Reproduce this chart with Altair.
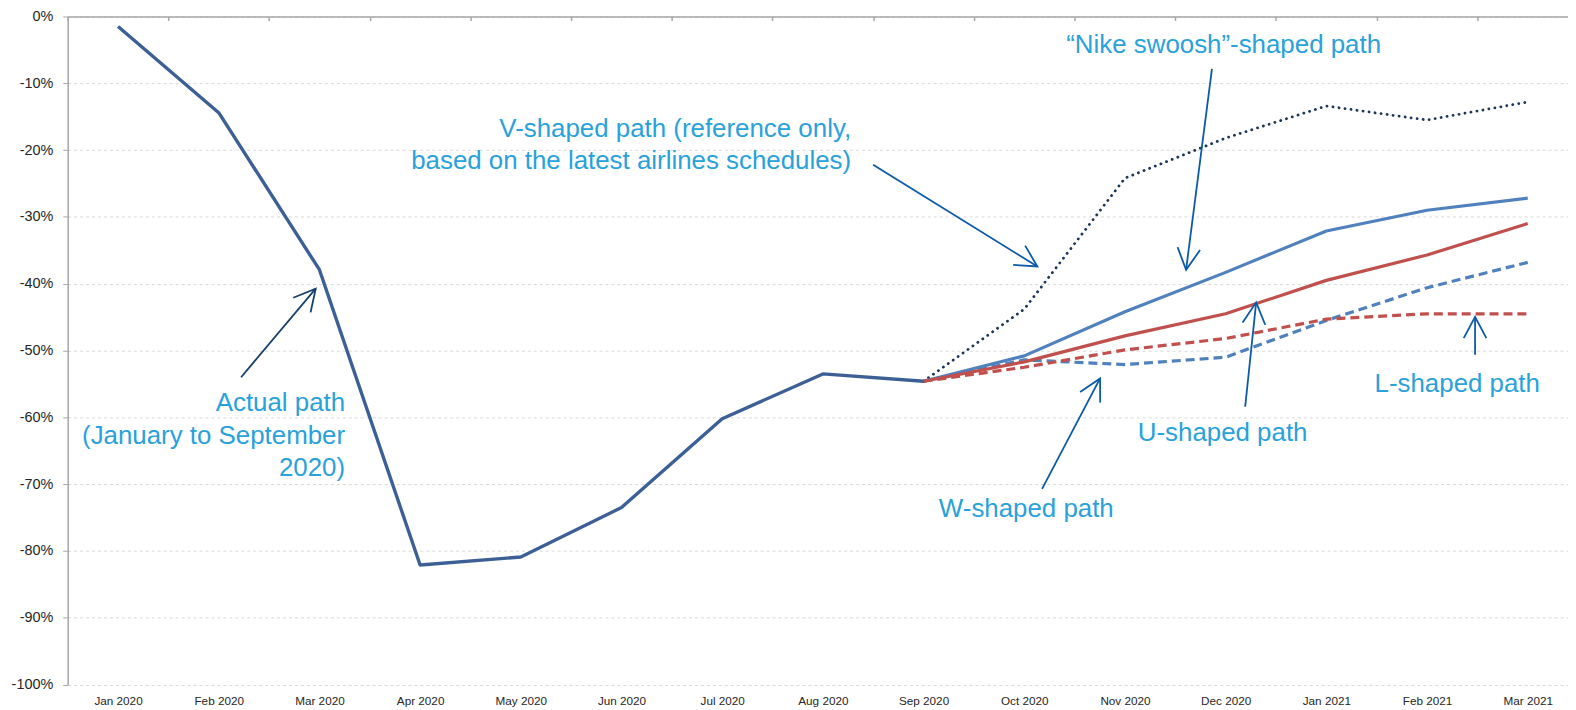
import math
import altair as alt
import pandas as pd

# ---------------- data ----------------
months = ["Jan 2020", "Feb 2020", "Mar 2020", "Apr 2020", "May 2020", "Jun 2020",
          "Jul 2020", "Aug 2020", "Sep 2020", "Oct 2020", "Nov 2020", "Dec 2020",
          "Jan 2021", "Feb 2021", "Mar 2021"]
actual = [-1.5, -14.4, -37.9, -82.1, -80.9, -73.5, -60.2, -53.5, -54.6]   # Jan-Sep 2020
v_path = [-54.6, -43.8, -24.2, -18.2, -13.4, -15.5, -12.8]             # Sep 2020 - Mar 2021
nike_path = [-54.6, -50.8, -44.2, -38.3, -32.1, -29.0, -27.2]
u_path = [-54.6, -51.7, -47.8, -44.5, -39.5, -35.7, -31.0]
w_path = [-54.6, -51.4, -52.1, -51.0, -45.5, -40.6, -36.8]
l_path = [-54.6, -52.5, -49.9, -48.2, -45.3, -44.5, -44.5]
y_ticks = list(range(-100, 1, 10))
FORECAST_START = 8  # index of Sep 2020

# annotation texts, anchored in data units (month index, percent)
ann_right = [
    {"x": 7.28, "y": -18.06, "t": "V-shaped path (reference only,\nbased on the latest airlines schedules)"},
    {"x": 2.255, "y": -59.1, "t": "Actual path\n(January to September\n2020)"},
]
ann_center = [
    {"x": 10.98, "y": -5.4, "t": "\u201cNike swoosh\u201d-shaped path"},
    {"x": 10.97, "y": -63.6, "t": "U-shaped path"},
    {"x": 9.02, "y": -74.9, "t": "W-shaped path"},
    {"x": 13.30, "y": -56.2, "t": "L-shaped path"},
]
# arrows: tail (x, y) -> head (x2, y2), data units
arrows = [
    {"x": 1.222, "y": -53.99, "x2": 1.963, "y2": -40.74, "c": "#17406a"},
    {"x": 7.499, "y": -22.20, "x2": 9.130, "y2": -37.42, "c": "#0b5aa8"},
    {"x": 10.864, "y": -7.86, "x2": 10.607, "y2": -37.92, "c": "#0b5aa8"},
    {"x": 11.194, "y": -58.41, "x2": 11.303, "y2": -42.78, "c": "#0b5aa8"},
    {"x": 9.177, "y": -70.70, "x2": 9.753, "y2": -54.17, "c": "#0b5aa8"},
    {"x": 13.477, "y": -50.64, "x2": 13.477, "y2": -44.95, "c": "#0b5aa8"},
]

# ---------------- layout ----------------
W, H = 1508, 671.6
X_DOMAIN = [-0.5, 14.4]
Y_DOMAIN = [-100, 0]
px_i = W / (X_DOMAIN[1] - X_DOMAIN[0])
px_v = H / (Y_DOMAIN[1] - Y_DOMAIN[0])

FONT = "Liberation Sans"
TEXT_BLUE = "#29a1db"

xs = alt.Scale(domain=X_DOMAIN, nice=False, zero=False)
ys = alt.Scale(domain=Y_DOMAIN, nice=False, zero=False)

y_axis = alt.Axis(values=y_ticks, labelExpr="datum.value + '%'", title=None,
                  grid=True, gridDash=[3, 3], gridColor="#d9d9d9", gridWidth=1,
                  domain=True, domainColor="#a6a6a6", domainWidth=1.5,
                  ticks=True, tickColor="#a6a6a6", tickSize=5, tickWidth=1,
                  labelFont=FONT, labelFontSize=14.5, labelColor="#262626",
                  labelPadding=10, labelFlush=False, labelOverlap=False)

month_expr = "[" + ",".join("'%s'" % m for m in months) + "][datum.value]"
x_label_axis = alt.Axis(values=list(range(len(months))), labelExpr=month_expr,
                        title=None, orient="bottom", domain=False, ticks=False,
                        tickSize=0, grid=False, labelPadding=11, labelAngle=0,
                        labelFont=FONT, labelFontSize=11.8, labelColor="#262626",
                        labelFlush=False, labelOverlap=False)
x_tick_axis = alt.Axis(values=[k + 0.5 for k in range(-1, len(months) - 1)],
                       labels=False, title=None, orient="bottom", offset=-H,
                       domain=True, domainColor="#a6a6a6", domainWidth=1.5,
                       ticks=True, tickColor="#a6a6a6", tickSize=4, tickWidth=1.5,
                       grid=False)


def series_df(values, start):
    return pd.DataFrame({"i": list(range(start, start + len(values))), "v": values})


def line(values, start, color, width, dash=None, cap="butt", x_axis=None):
    kw = dict(color=color, strokeWidth=width, strokeCap=cap, strokeJoin="round")
    if dash is not None:
        kw["strokeDash"] = dash
    return alt.Chart(series_df(values, start)).mark_line(**kw).encode(
        x=alt.X("i:Q", scale=xs, axis=x_axis),
        y=alt.Y("v:Q", scale=ys, axis=y_axis),
    )


l_v = line(v_path, FORECAST_START, "#1b3557", 2.8, dash=[0.1, 6], cap="round", x_axis=x_tick_axis)
l_nike = line(nike_path, FORECAST_START, "#4f81bd", 3.2)
l_w = line(w_path, FORECAST_START, "#4f81bd", 3.2, dash=[9, 5])
l_l = line(l_path, FORECAST_START, "#c0504d", 3.2, dash=[9, 5])
l_u = line(u_path, FORECAST_START, "#c0504d", 3.2)
l_act = line(actual, 0, "#3c6096", 3.4, x_axis=x_label_axis)

# arrows
arr_df = pd.DataFrame(arrows)
arr_df["ang"] = [
    (math.degrees(math.atan2((a["x2"] - a["x"]) * px_i, (a["y2"] - a["y"]) * px_v)) + 360) % 360
    for a in arrows
]
arrow_lines = alt.Chart(arr_df).mark_rule(strokeWidth=1.8).encode(
    x=alt.X("x:Q", scale=xs, axis=None),
    y=alt.Y("y:Q", scale=ys, axis=y_axis),
    x2="x2:Q", y2="y2:Q",
    color=alt.Color("c:N", scale=None),
)
arrow_heads = alt.Chart(arr_df).mark_point(
    shape="M-0.53,1L0,0L0.53,1", size=1850, filled=False, strokeWidth=1.8, opacity=1
).encode(
    x=alt.X("x2:Q", scale=xs, axis=None),
    y=alt.Y("y2:Q", scale=ys, axis=y_axis),
    angle=alt.Angle("ang:Q", scale=None),
    color=alt.Color("c:N", scale=None),
)


def texts(rows, align):
    return alt.Chart(pd.DataFrame(rows)).mark_text(
        align=align, baseline="alphabetic", lineBreak="\n", lineHeight=32.5,
        font=FONT, fontSize=26, color=TEXT_BLUE
    ).encode(
        x=alt.X("x:Q", scale=xs, axis=None),
        y=alt.Y("y:Q", scale=ys, axis=y_axis),
        text="t:N",
    )


chart = alt.layer(
    l_v, l_nike, l_w, l_l, l_u, l_act,
    arrow_lines, arrow_heads,
    texts(ann_right, "right"), texts(ann_center, "center"),
).resolve_axis(x="independent").properties(
    width=W, height=H,
    autosize=alt.AutoSizeParams(type="none"),
    padding={"left": 60, "top": 6.7, "right": 0, "bottom": 23.7},
    background="white",
).configure_view(stroke=None)

chart.save("out.html", embed_options={"renderer": "svg", "actions": False})
